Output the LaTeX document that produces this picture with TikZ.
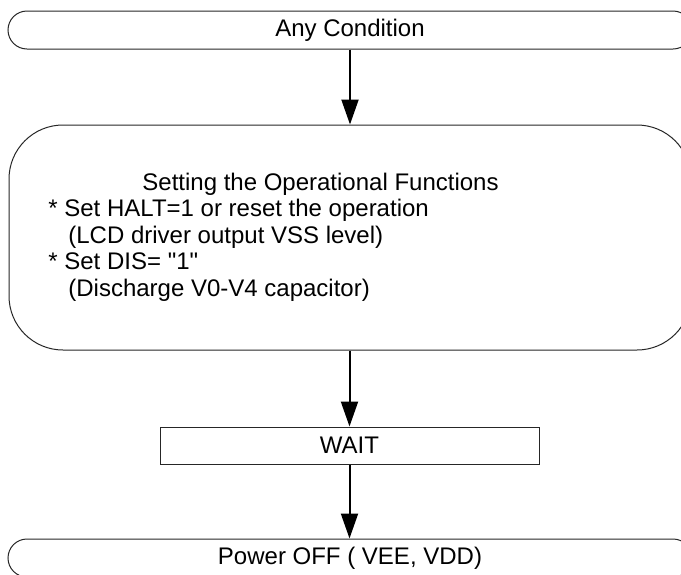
\documentclass[tikz,border=0pt]{standalone}
\usepackage{fontspec}
\setmainfont{Liberation Sans}
\usetikzlibrary{arrows.meta}
\begin{document}
\begin{tikzpicture}[x=0.5pt, y=-0.5pt,
  every node/.style={font=\fontsize{12pt}{13.2pt}\selectfont},
  terminal/.style={draw=black!85, line width=0.5pt, rectangle, rounded corners=9.5pt,
    minimum width=342pt, minimum height=19pt, inner sep=0pt},
  process/.style={draw=black!85, line width=0.5pt, rectangle, rounded corners=27pt,
    minimum width=341pt, minimum height=112.5pt, inner sep=0pt},
  waitbox/.style={draw=black!85, line width=0.5pt, rectangle,
    minimum width=189.5pt, minimum height=18.5pt, inner sep=0pt},
  textline/.style={anchor=base west, inner sep=0pt},
  flow/.style={line width=1pt, -{Triangle[width=8.5pt, length=12.5pt]}}
]
  \useasboundingbox (0,0) rectangle (681,574);
  \clip (0,0) rectangle (681,574);

  % flow chart boxes
  \node[terminal] (start) at (350,30) {Any Condition};
  \node[process] (setup) at (350,237.5) {};
  \node[waitbox] (wait) at (349.5,445.5) {WAIT};
  \node[terminal] (off) at (350,558) {Power OFF ( VEE, VDD)};

  % operational functions text
  \node[textline] (title) at (142,190) {Setting the Operational Functions};
  \node[textline] (halt) at (48,216.5) {* Set HALT=1 or reset the operation};
  \node[textline] (haltnote) at (68,243) {(LCD driver output VSS level)};
  \node[textline] (dis) at (48,269.5) {* Set DIS= \textquotedbl 1\textquotedbl};
  \node[textline] (disnote) at (68,296) {(Discharge V0-V4 capacitor)};

  % connectors
  \draw[flow] (start.south) -- (setup.north);
  \draw[flow] (setup.south -| wait.north) -- (wait.north);
  \draw[flow] (wait.south) -- (wait.south |- off.north);
\end{tikzpicture}
\end{document}
